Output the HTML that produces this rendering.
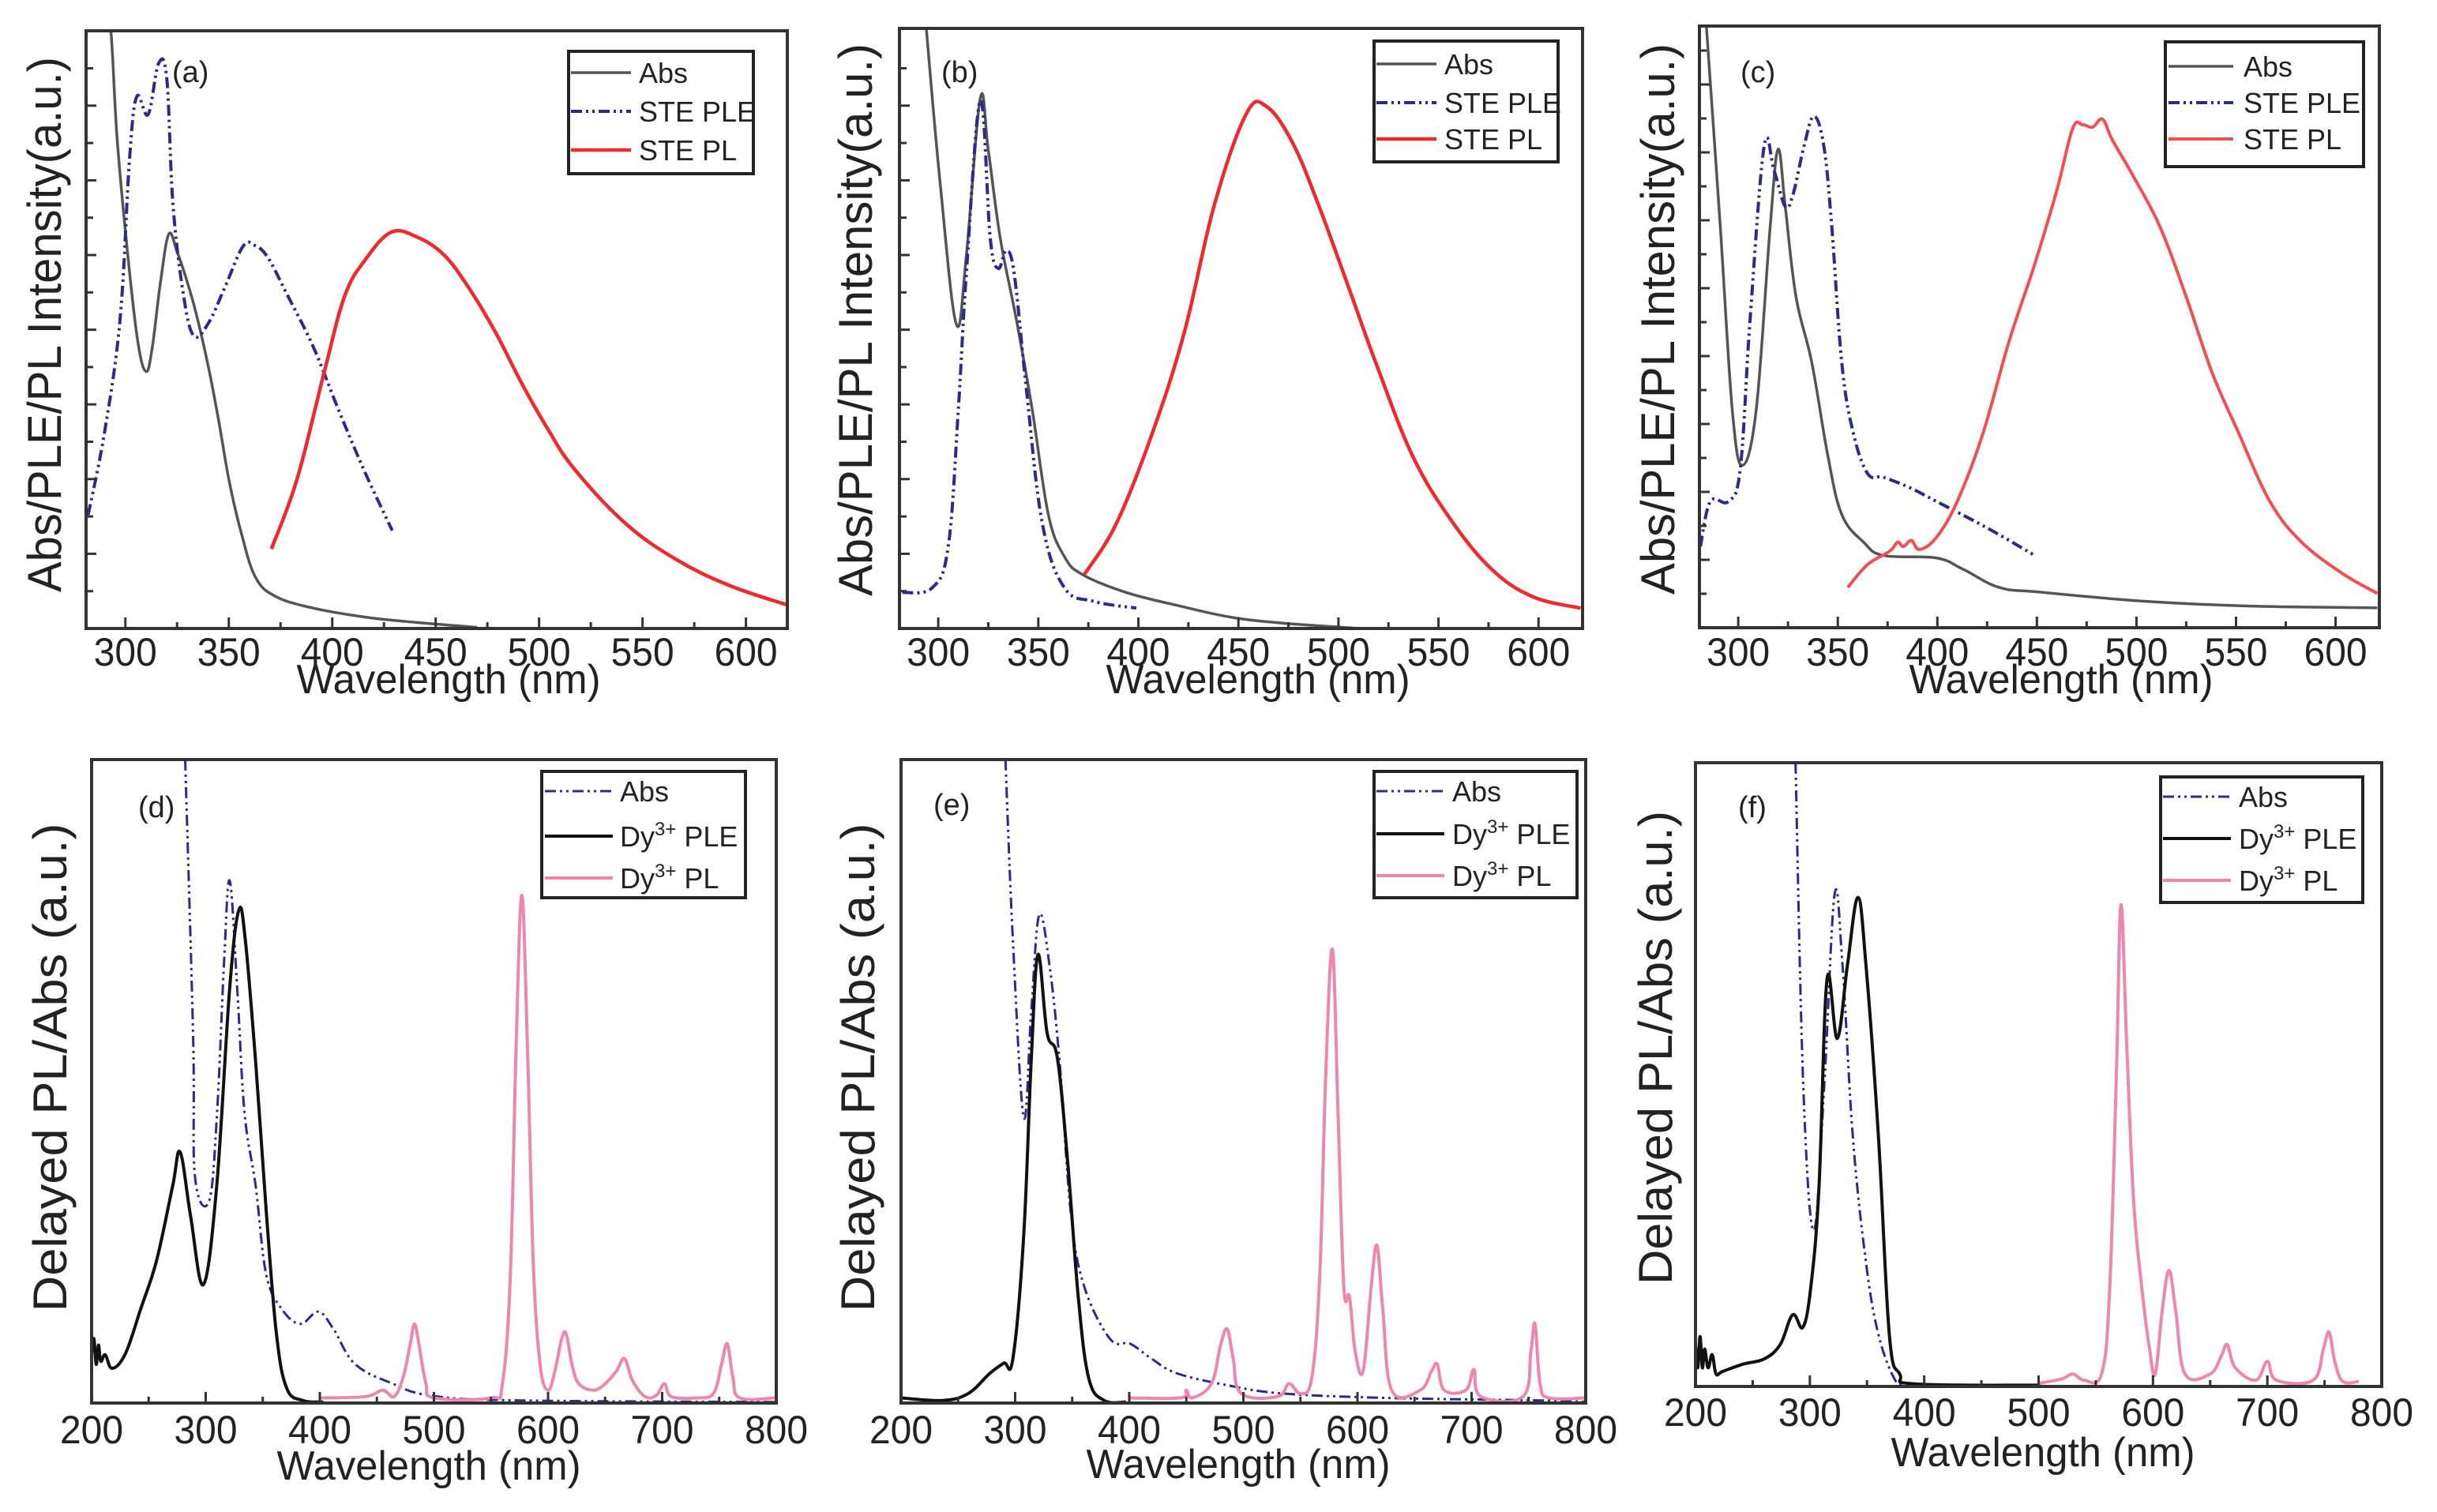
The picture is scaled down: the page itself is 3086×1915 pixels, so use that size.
<!DOCTYPE html>
<html><head><meta charset="utf-8"><style>
html,body{margin:0;padding:0;background:#fff}
svg{display:block}
text{font-family:"Liberation Sans",Arial,sans-serif;fill:#222}
</style></head><body>
<svg id="fig" width="3086" height="1915" viewBox="0 0 3086 1915" xmlns="http://www.w3.org/2000/svg"></svg>
<script>
// ---------- data: [wavelength nm, normalized intensity] ----------
const aAbs=[[290,1.05],[293,1.0],[296,0.82],[301,0.63],[306,0.48],[310,0.43],[313,0.47],[317,0.58],[321,0.66],[325,0.63],[329,0.59],[334,0.53],[340,0.44],[345,0.35],[350,0.25],[356,0.16],[363,0.085],[373,0.053],[391,0.034],[416,0.019],[441,0.01],[466,0.003],[470,0.002]];
const aPLE=[[282,0.19],[290,0.33],[297.5,0.52],[302,0.785],[305.5,0.89],[311,0.86],[316,0.945],[320,0.92],[323,0.71],[328,0.56],[333,0.49],[340,0.51],[348,0.57],[357,0.64],[363,0.64],[369,0.62],[378,0.56],[391,0.47],[403,0.366],[416,0.26],[429,0.164]];
const aPL=[[370.6,0.133],[383,0.25],[396,0.427],[406,0.556],[416,0.617],[428.5,0.663],[441,0.655],[454,0.625],[466,0.57],[479,0.495],[491.6,0.41],[504,0.335],[517,0.267],[542,0.175],[567,0.114],[592,0.072],[617.6,0.042],[621,0.04]];
const bAbs=[[294,1.0],[301,0.74],[309,0.507],[314,0.62],[321,0.884],[325,0.797],[331,0.65],[339,0.515],[347,0.364],[355,0.19],[363,0.12],[372,0.09],[394,0.06],[420,0.038],[446,0.019],[472,0.009],[511,0.0]];
const bPLE=[[282,0.06],[297,0.068],[305,0.137],[310,0.364],[314,0.59],[321,0.88],[326,0.65],[330,0.6],[334,0.63],[338,0.59],[344,0.40],[352,0.175],[363,0.068],[378,0.045],[399,0.034]];
const bPL=[[373,0.09],[389,0.175],[407,0.326],[423,0.494],[438,0.706],[454,0.858],[464,0.87],[477,0.81],[490,0.706],[506,0.56],[519,0.44],[537,0.288],[556,0.182],[576.5,0.099],[597,0.053],[621,0.034]];
const cAbs=[[284,1.0],[291,0.665],[297,0.362],[302,0.27],[309,0.362],[316,0.665],[320,0.795],[323.6,0.70],[329,0.55],[337,0.44],[345,0.286],[352,0.188],[363,0.142],[373,0.12],[399.5,0.116],[413,0.097],[431,0.067],[452,0.059],[504,0.044],[557,0.036],[621,0.033]];
const cPLE=[[281,0.135],[286,0.21],[295,0.21],[301,0.264],[306,0.515],[313,0.80],[318,0.76],[323.6,0.70],[327.5,0.72],[333,0.80],[338,0.85],[343,0.80],[347,0.665],[352,0.44],[357.6,0.326],[365,0.256],[373,0.25],[386,0.233],[399.5,0.21],[425.5,0.165],[449,0.12]];
const cPL=[[355,0.067],[365,0.105],[376,0.127],[380,0.142],[383,0.135],[387,0.145],[391,0.13],[399.5,0.15],[410,0.21],[423,0.324],[436,0.476],[449,0.605],[460,0.727],[468,0.83],[473,0.836],[478,0.832],[483,0.845],[488,0.81],[498.5,0.75],[512,0.665],[525,0.55],[538,0.424],[551,0.326],[567,0.21],[583,0.142],[604,0.089],[621,0.057]];
const dAbs=[[282,1.0],[289,0.567],[290.6,0.352],[303,0.314],[310,0.452],[316,0.682],[321,0.812],[327.6,0.644],[334,0.452],[343.8,0.337],[353,0.2],[366.7,0.146],[383,0.123],[398.6,0.142],[412,0.115],[430.6,0.061],[462.6,0.031],[499,0.011],[576.7,0.004],[800,0.0015]];
const dPLE=[[200,0.077],[202,0.1],[204,0.06],[206,0.09],[208,0.065],[212,0.075],[218,0.054],[229.7,0.077],[243,0.146],[257,0.222],[271,0.337],[277.6,0.39],[286.8,0.29],[298,0.184],[309.6,0.337],[321,0.644],[329,0.766],[334.7,0.72],[343.8,0.529],[353,0.299],[362,0.107],[371,0.023],[385,0.004],[403,0.0015]];
const dPL=[[400,0.008],[440,0.01],[455,0.02],[465,0.01],[473,0.04],[479,0.09],[483,0.123],[487,0.09],[493,0.03],[500,0.008],[550,0.008],[560,0.03],[567,0.2],[572,0.55],[577,0.789],[582,0.55],[587,0.22],[593,0.06],[600,0.02],[606,0.05],[612,0.1],[616,0.107],[621,0.06],[627,0.03],[640,0.02],[650,0.03],[660,0.05],[667,0.069],[674,0.035],[685,0.01],[695,0.012],[702,0.03],[708,0.01],[730,0.008],[745,0.015],[752,0.06],[757,0.092],[762,0.04],[768,0.008],[800,0.008]];
const eAbs=[[291.5,1.0],[298,0.72],[307.5,0.444],[314,0.605],[321,0.758],[330,0.682],[339,0.529],[348.6,0.299],[360,0.184],[383,0.1],[401,0.092],[419.5,0.069],[442,0.046],[488,0.027],[534,0.015],[625,0.008],[762,0.004],[800,0.002]];
const ePLE=[[200,0.008],[236.6,0.004],[259,0.015],[277.7,0.046],[290,0.062],[298,0.069],[307.5,0.26],[314,0.529],[320,0.697],[328,0.575],[337,0.536],[346,0.375],[355.5,0.161],[364.6,0.038],[378,0.004],[397,0.0015]];
const ePL=[[400,0.008],[445,0.008],[450,0.02],[455,0.008],[472,0.03],[480,0.09],[485.8,0.115],[491,0.07],[498,0.015],[530,0.01],[540,0.03],[550,0.015],[560,0.04],[567,0.2],[572,0.5],[578,0.705],[583,0.45],[588,0.18],[593,0.165],[598,0.08],[605,0.05],[612,0.18],[617,0.245],[622,0.15],[630,0.02],[655,0.02],[665,0.05],[670,0.06],[676,0.02],[695,0.02],[702,0.052],[708,0.01],[745,0.01],[752,0.08],[755.6,0.123],[760,0.03],[768,0.008],[800,0.008]];
const fAbs=[[287.5,1.0],[294.3,0.479],[303.4,0.25],[312.5,0.479],[321.6,0.788],[328.5,0.677],[337.6,0.4],[349,0.2],[360,0.083],[374,0.012],[383,0.002]];
const fPLE=[[200,0.067],[202,0.03],[204,0.08],[206,0.03],[208,0.06],[211,0.03],[214.6,0.051],[218,0.02],[223.7,0.024],[242,0.036],[260,0.044],[274,0.067],[285,0.115],[294,0.095],[301,0.162],[308,0.32],[315,0.653],[324,0.558],[333,0.677],[342,0.784],[349,0.677],[360,0.4],[369.5,0.083],[378.6,0.02],[392,0.004],[501.6,0.002]];
const fPL=[[500,0.005],[520,0.012],[530,0.02],[540,0.01],[555,0.02],[562,0.15],[568,0.5],[572,0.772],[577,0.55],[583,0.3],[590,0.162],[597,0.06],[602,0.02],[608,0.12],[614,0.186],[620,0.12],[628,0.02],[650,0.02],[660,0.05],[665,0.067],[672,0.03],[690,0.01],[700,0.04],[708,0.01],[740,0.01],[749,0.06],[754,0.087],[759,0.04],[766,0.008],[780,0.008]];
const upperTicks=[300,350,400,450,500,550,600];
const lowerTicks=[200,300,400,500,600,700,800];

const NS="http://www.w3.org/2000/svg";
const svg=document.getElementById('fig');
function mk(tag,attrs,parent){const e=document.createElementNS(NS,tag);for(const k in attrs)e.setAttribute(k,attrs[k]);(parent||svg).appendChild(e);return e;}

const GRAY="#555555",BLUE="#2b2b8c",RED="#ee2a2a",PINK="#ee86ad",BLACK="#111111";
const DASH="14 5 3 5 3 5";

function smoothPath(P){
  let d='M'+P[0][0].toFixed(1)+','+P[0][1].toFixed(1);
  for(let i=0;i<P.length-1;i++){
    const p0=P[Math.max(0,i-1)],p1=P[i],p2=P[i+1],p3=P[Math.min(P.length-1,i+2)];
    const t=0.18;
    const c1x=p1[0]+(p2[0]-p0[0])*t,c1y=p1[1]+(p2[1]-p0[1])*t;
    const c2x=p2[0]-(p3[0]-p1[0])*t,c2y=p2[1]-(p3[1]-p1[1])*t;
    d+=' C'+c1x.toFixed(1)+','+c1y.toFixed(1)+' '+c2x.toFixed(1)+','+c2y.toFixed(1)+' '+p2[0].toFixed(1)+','+p2[1].toFixed(1);
  }
  return d;
}

const panels=[
 {id:'a',L:109,R:997,T:39,B:796,x0:281,x1:620,ticks:upperTicks,major:50,minor:25,ytick:47.3,
  ytitle:'Abs/PLE/PL Intensity(a.u.)',ytx:56,yty:411,ytl:678,tickBase:843,xtx:568,xtb:878,
  lab:[218,104],leg:{x:720,y:65,w:234,h:155,lx1:723,lx2:799,tx:809,rows:[92,141,190]},
  series:[{d:aAbs,c:GRAY,w:3.5,n:'Abs',dash:null},{d:aPLE,c:BLUE,w:4,n:'STE PLE',dash:DASH},{d:aPL,c:RED,w:4.5,n:'STE PL',dash:null}]},
 {id:'b',L:1139,R:2004,T:36,B:796,x0:280.6,x1:622,ticks:upperTicks,major:50,minor:25,ytick:47.3,
  ytitle:'Abs/PLE/PL Intensity(a.u.)',ytx:1083,yty:405,ytl:700,tickBase:843,xtx:1593,xtb:878,
  lab:[1192,104],leg:{x:1740,y:52,w:233,h:153,lx1:1743,lx2:1819,tx:1829,rows:[81,130,176]},
  series:[{d:bAbs,c:GRAY,w:3.5,n:'Abs',dash:null},{d:bPLE,c:BLUE,w:4,n:'STE PLE',dash:DASH},{d:bPL,c:RED,w:4.5,n:'STE PL',dash:null}]},
 {id:'c',L:2152,R:3013,T:33,B:795,x0:280.5,x1:622,ticks:upperTicks,major:50,minor:25,ytick:43,
  ytitle:'Abs/PLE/PL Intensity(a.u.)',ytx:2099,yty:404,ytl:698,tickBase:843,xtx:2610,xtb:878,
  lab:[2204,104],leg:{x:2742,y:53,w:251,h:158,lx1:2746,lx2:2828,tx:2841,rows:[84,130,176]},
  series:[{d:cAbs,c:GRAY,w:3.5,n:'Abs',dash:null},{d:cPLE,c:BLUE,w:4,n:'STE PLE',dash:DASH},{d:cPL,c:"#f05050",w:4,n:'STE PL',dash:null}]},
 {id:'d',L:116,R:983,T:962,B:1777,x0:200,x1:800,ticks:lowerTicks,major:100,minor:50,ytick:0,
  ytitle:'Delayed PL/Abs (a.u.)',ytx:63,yty:1352,ytl:619,tickBase:1828,xtx:543,xtb:1874,
  lab:[175,1035],leg:{x:686,y:977,w:258,h:160,lx1:690,lx2:776,tx:785,rows:[1002,1059,1112]},
  series:[{d:dAbs,c:BLUE,w:3,n:'Abs',dash:DASH},{d:dPLE,c:BLACK,w:4,n:'Dy3+ PLE',dash:null},{d:dPL,c:PINK,w:4,n:'Dy3+ PL',dash:null}]},
 {id:'e',L:1141,R:2008,T:962,B:1777,x0:200,x1:800,ticks:lowerTicks,major:100,minor:50,ytick:0,
  ytitle:'Delayed PL/Abs (a.u.)',ytx:1086,yty:1352,ytl:619,tickBase:1828,xtx:1568,xtb:1872,
  lab:[1182,1032],leg:{x:1740,y:977,w:257,h:160,lx1:1743,lx2:1829,tx:1839,rows:[1002,1056,1109]},
  series:[{d:eAbs,c:BLUE,w:3,n:'Abs',dash:DASH},{d:ePLE,c:BLACK,w:4,n:'Dy3+ PLE',dash:null},{d:ePL,c:PINK,w:4,n:'Dy3+ PL',dash:null}]},
 {id:'f',L:2147,R:3016,T:966,B:1756,x0:200,x1:800,ticks:lowerTicks,major:100,minor:50,ytick:0,
  ytitle:'Delayed PL/Abs (a.u.)',ytx:2096,yty:1327,ytl:600,tickBase:1806,xtx:2587,xtb:1857,
  lab:[2201,1035],leg:{x:2736,y:984,w:256,h:159,lx1:2739,lx2:2825,tx:2835,rows:[1009,1062,1115]},
  series:[{d:fAbs,c:BLUE,w:3,n:'Abs',dash:DASH},{d:fPLE,c:BLACK,w:4,n:'Dy3+ PLE',dash:null},{d:fPL,c:PINK,w:4,n:'Dy3+ PL',dash:null}]}
];

panels.forEach(p=>{
  const g=mk('g',{});
  
  
  const xs=v=>p.L+(v-p.x0)/(p.x1-p.x0)*(p.R-p.L);
  const ys=v=>p.B-v*(p.B-p.T);
  const cp=mk('clipPath',{id:'clip'+p.id},g);
  mk('rect',{x:p.L,y:p.T,width:p.R-p.L,height:p.B-p.T},cp);
  p.series.forEach((s,i)=>{
    const P=s.d.map(q=>[xs(q[0]),ys(q[1])]);
    const a={d:smoothPath(P),fill:'none',stroke:s.c,'stroke-width':s.w,'stroke-linejoin':'round','clip-path':'url(#clip'+p.id+')'};
    if(s.dash)a['stroke-dasharray']=s.dash;
    const pl=mk('path',a,g);
    
    
  });
  const fr=mk('rect',{x:p.L,y:p.T,width:p.R-p.L,height:p.B-p.T,fill:'none',stroke:'#333','stroke-width':4},g);
  
  
  for(let v=Math.ceil(p.x0/p.minor)*p.minor;v<=p.x1;v+=p.minor){
    const isMaj=v%p.major===0;
    mk('line',{x1:xs(v),x2:xs(v),y1:p.B,y2:p.B-(isMaj?14:8),stroke:'#333','stroke-width':3},g);
  }
  p.ticks.forEach(v=>{
    const t=mk('text',{x:xs(v),y:p.tickBase,'text-anchor':'middle','font-size':50,textLength:80,lengthAdjust:'spacingAndGlyphs'},g);
    t.textContent=String(v);
    
    
  });
  if(p.ytick>0){
    let k=1;
    for(let y=p.B-p.ytick;y>p.T+5;y-=p.ytick){mk('line',{x1:p.L,x2:p.L+(k%2?9:13),y1:y,y2:y,stroke:'#333','stroke-width':3},g);k++;}
  }
  const xt=mk('text',{x:p.xtx,y:p.xtb,'text-anchor':'middle','font-size':52,textLength:385,lengthAdjust:'spacingAndGlyphs'},g);
  xt.textContent='Wavelength (nm)';
  
  
  const yt=mk('text',{x:0,y:0,'text-anchor':'middle','font-size':60,textLength:p.ytl,lengthAdjust:'spacingAndGlyphs',transform:'translate('+(p.ytx+21)+','+p.yty+') rotate(-90)'},g);
  yt.textContent=p.ytitle;
  
  
  const lb=mk('text',{x:p.lab[0],y:p.lab[1],'font-size':38},g);
  lb.textContent='('+p.id+')';
  
  
  const L=p.leg;
  const lg=mk('g',{},g);
  
  
  mk('rect',{x:L.x,y:L.y,width:L.w,height:L.h,fill:'#fff',stroke:'#222','stroke-width':4},lg);
  p.series.forEach((s,i)=>{
    const ry=L.rows[i];
    const la={x1:L.lx1,x2:L.lx2,y1:ry,y2:ry,stroke:s.c,'stroke-width':s.w};
    if(s.dash)la['stroke-dasharray']=DASH;
    mk('line',la,lg);
    const t=mk('text',{x:L.tx,y:ry+13,'font-size':36},lg);
    if(s.n.indexOf('Dy3+')===0){
      t.appendChild(document.createTextNode('Dy'));
      const sp=mk('tspan',{dy:-14,'font-size':24},t);sp.textContent='3+';
      const sp2=mk('tspan',{dy:14,'font-size':36},t);sp2.textContent=' '+s.n.slice(5);
    } else t.textContent=s.n;
    
    
  });
});
</script>
</body></html>
